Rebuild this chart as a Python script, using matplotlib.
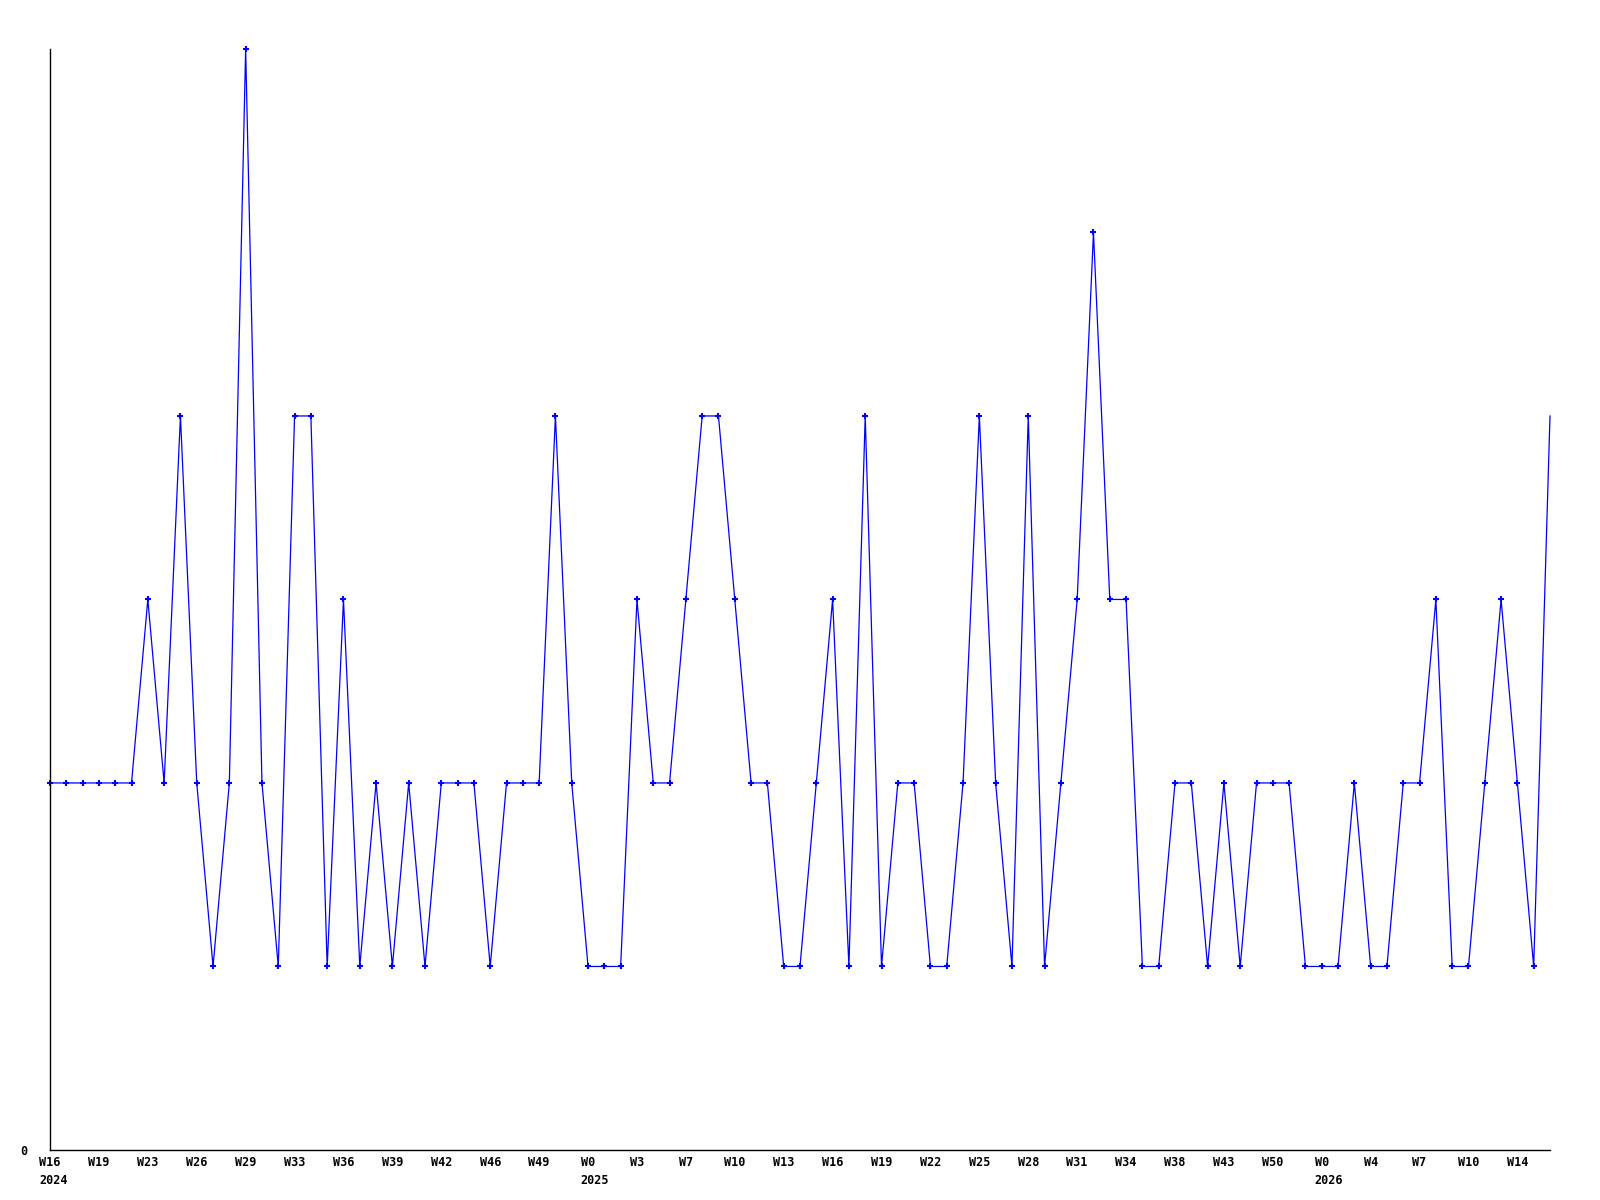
import matplotlib
matplotlib.use('Agg')
import matplotlib.pyplot as plt

# weekly counts, one per point
counts = [2, 2, 2, 2, 2, 2, 3, 2, 4, 2,
          1, 2, 6, 2, 1, 4, 4, 1, 3, 1,
          2, 1, 2, 1, 2, 2, 2, 1, 2, 2,
          2, 4, 2, 1, 1, 1, 3, 2, 2, 3,
          4, 4, 3, 2, 2, 1, 1, 2, 3, 1,
          4, 1, 2, 2, 1, 1, 2, 4, 2, 1,
          4, 1, 2, 3, 5, 3, 3, 1, 1, 2,
          2, 1, 2, 1, 2, 2, 2, 1, 1, 1,
          2, 1, 1, 2, 2, 3, 1, 1, 2, 3,
          2, 1, 4]

# a label every third point
week_labels = ['W16', 'W19', 'W23', 'W26', 'W29', 'W33', 'W36', 'W39', 'W42', 'W46',
               'W49', 'W0', 'W3', 'W7', 'W10', 'W13', 'W16', 'W19', 'W22', 'W25',
               'W28', 'W31', 'W34', 'W38', 'W43', 'W50', 'W0', 'W4', 'W7', 'W10',
               'W14']
year_labels = {0: '2024', 11: '2025', 26: '2026'}

font = dict(family='DejaVu Sans Mono', weight='bold', size=8.5)

fig = plt.figure(figsize=(16, 12), dpi=100)
ax = fig.add_axes([0.03125, 0.0417, 0.9375, 0.9175])

x = list(range(len(counts)))
ax.plot(x, counts, color='#0000ff', linewidth=0.9,
        marker='+', markersize=4, markeredgewidth=1.5,
        markevery=list(range(len(counts) - 1)), clip_on=False)

ax.set_xlim(0, len(counts) - 1)
ax.set_ylim(0, 6)

for s in ['top', 'right']:
    ax.spines[s].set_visible(False)
for s in ['left', 'bottom']:
    ax.spines[s].set_linewidth(1.0)
    ax.spines[s].set_color('black')

tick_pos = [3 * i for i in range(len(week_labels))]
ax.set_xticks(tick_pos)
ax.set_xticklabels(week_labels, fontdict=font)
ax.set_yticks([0])
ax.set_yticklabels(['0'], fontdict=font)
ax.tick_params(axis='x', length=0, pad=4)
ax.tick_params(axis='y', length=0, pad=16)

for i, yr in year_labels.items():
    wk = week_labels[i]
    off = -len(wk) * 7.2 / 2 * 72 / 100
    ax.annotate(yr, xy=(tick_pos[i], 0), xycoords=('data', 'axes fraction'),
                xytext=(off, -17), textcoords='offset points',
                ha='left', va='top', **font)

fig.savefig('out.png', dpi=100, facecolor='white')
